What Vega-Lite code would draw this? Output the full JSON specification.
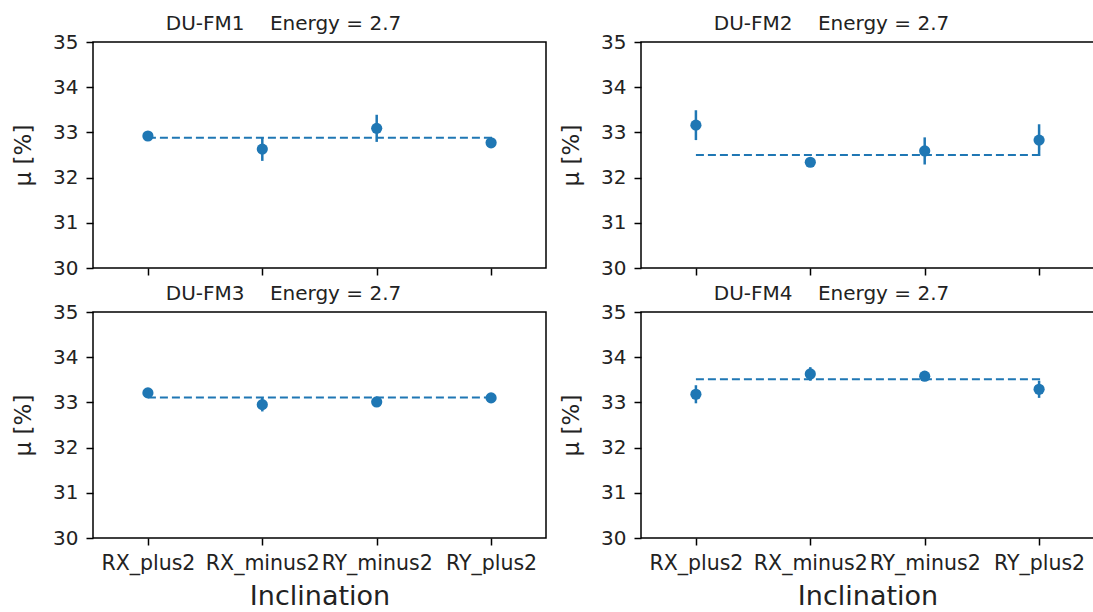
{
  "$schema": "https://vega.github.io/schema/vega-lite/v6.json",
  "padding": {"left": 11, "top": 13, "right": 0, "bottom": 0},
  "background": "white",
  "datasets": {
    "pts": [
      {"panel": "DU-FM1", "inclination": "RX_plus2", "mu": 32.92, "err": 0.06},
      {"panel": "DU-FM1", "inclination": "RX_minus2", "mu": 32.63, "err": 0.26},
      {"panel": "DU-FM1", "inclination": "RY_minus2", "mu": 33.09, "err": 0.3},
      {"panel": "DU-FM1", "inclination": "RY_plus2", "mu": 32.77, "err": 0.08},
      {"panel": "DU-FM2", "inclination": "RX_plus2", "mu": 33.16, "err": 0.33},
      {"panel": "DU-FM2", "inclination": "RX_minus2", "mu": 32.34, "err": 0.05},
      {"panel": "DU-FM2", "inclination": "RY_minus2", "mu": 32.59, "err": 0.3},
      {"panel": "DU-FM2", "inclination": "RY_plus2", "mu": 32.83, "err": 0.35},
      {"panel": "DU-FM3", "inclination": "RX_plus2", "mu": 33.21, "err": 0.07},
      {"panel": "DU-FM3", "inclination": "RX_minus2", "mu": 32.95, "err": 0.15},
      {"panel": "DU-FM3", "inclination": "RY_minus2", "mu": 33.01, "err": 0.06},
      {"panel": "DU-FM3", "inclination": "RY_plus2", "mu": 33.1, "err": 0.06},
      {"panel": "DU-FM4", "inclination": "RX_plus2", "mu": 33.18, "err": 0.2},
      {"panel": "DU-FM4", "inclination": "RX_minus2", "mu": 33.63, "err": 0.15},
      {"panel": "DU-FM4", "inclination": "RY_minus2", "mu": 33.58, "err": 0.08},
      {"panel": "DU-FM4", "inclination": "RY_plus2", "mu": 33.29, "err": 0.19}
    ],
    "lines": [
      {"panel": "DU-FM1", "inclination": "RX_plus2", "value": 32.88, "ord": 0},
      {"panel": "DU-FM1", "inclination": "RY_plus2", "value": 32.88, "ord": 1},
      {"panel": "DU-FM1", "inclination": "RY_plus2", "value": 32.77, "ord": 2},
      {"panel": "DU-FM2", "inclination": "RX_plus2", "value": 32.5, "ord": 0},
      {"panel": "DU-FM2", "inclination": "RY_plus2", "value": 32.5, "ord": 1},
      {"panel": "DU-FM2", "inclination": "RY_plus2", "value": 32.83, "ord": 2},
      {"panel": "DU-FM3", "inclination": "RX_plus2", "value": 33.11, "ord": 0},
      {"panel": "DU-FM3", "inclination": "RY_plus2", "value": 33.11, "ord": 1},
      {"panel": "DU-FM3", "inclination": "RY_plus2", "value": 33.1, "ord": 2},
      {"panel": "DU-FM4", "inclination": "RX_plus2", "value": 33.51, "ord": 0},
      {"panel": "DU-FM4", "inclination": "RY_plus2", "value": 33.51, "ord": 1},
      {"panel": "DU-FM4", "inclination": "RY_plus2", "value": 33.29, "ord": 2}
    ]
  },
  "config": {
    "font": "DejaVu Sans",
    "view": {"stroke": "black", "strokeWidth": 1.5},
    "axis": {
      "grid": false,
      "domain": false,
      "tickColor": "black",
      "tickWidth": 1.5,
      "tickSize": 7,
      "labelColor": "#222",
      "labelFont": "DejaVu Sans",
      "titleFont": "DejaVu Sans",
      "titleFontWeight": "normal",
      "titleColor": "#222"
    },
    "axisX": {"labelFontSize": 20.5},
    "axisY": {"labelFontSize": 20},
    "title": {"fontSize": 20, "fontWeight": "normal", "color": "#222", "offset": -2, "dx": -36, "font": "DejaVu Sans"}
  },
  "columns": 2,
  "spacing": {"row": 4, "column": 12},
  "concat": [
    {
      "title": "DU-FM1\u00a0\u00a0\u00a0\u00a0Energy = 2.7",
      "width": 453, "height": 226,
      "layer": [
        {"data": {"name": "lines"}, "transform": [{"filter": "datum.panel === 'DU-FM1'"}],
         "mark": {"type": "line", "color": "#1f77b4", "strokeWidth": 2, "strokeDash": [8, 4]},
         "encoding": {"x": {"field": "inclination", "type": "nominal", "scale": {"type": "point", "padding": 0.48, "domain": ["RX_plus2", "RX_minus2", "RY_minus2", "RY_plus2"]}, "sort": null, "axis": {"labels": false, "title": null, "labelAngle": 0}},
                      "y": {"field": "value", "type": "quantitative", "title": "μ [%]", "scale": {"domain": [30, 35], "nice": false, "zero": false}, "axis": {"values": [30, 31, 32, 33, 34, 35], "titleFontSize": 23, "labelPadding": 8, "titlePadding": 17}},
                      "order": {"field": "ord", "type": "quantitative"}}},
        {"data": {"name": "pts"}, "transform": [{"filter": "datum.panel === 'DU-FM1'"}],
         "mark": {"type": "errorbar", "color": "#1f77b4", "thickness": 2.5},
         "encoding": {"x": {"field": "inclination", "type": "nominal"}, "y": {"field": "mu", "type": "quantitative", "title": "μ [%]"}, "yError": {"field": "err"}}},
        {"data": {"name": "pts"}, "transform": [{"filter": "datum.panel === 'DU-FM1'"}],
         "mark": {"type": "point", "filled": true, "opacity": 1, "color": "#1f77b4", "size": 125},
         "encoding": {"x": {"field": "inclination", "type": "nominal"}, "y": {"field": "mu", "type": "quantitative", "title": "μ [%]"}}}
      ]
    },
    {
      "title": "DU-FM2\u00a0\u00a0\u00a0\u00a0Energy = 2.7",
      "width": 453, "height": 226,
      "layer": [
        {"data": {"name": "lines"}, "transform": [{"filter": "datum.panel === 'DU-FM2'"}],
         "mark": {"type": "line", "color": "#1f77b4", "strokeWidth": 2, "strokeDash": [8, 4]},
         "encoding": {"x": {"field": "inclination", "type": "nominal", "scale": {"type": "point", "padding": 0.48, "domain": ["RX_plus2", "RX_minus2", "RY_minus2", "RY_plus2"]}, "sort": null, "axis": {"labels": false, "title": null, "labelAngle": 0}},
                      "y": {"field": "value", "type": "quantitative", "title": "μ [%]", "scale": {"domain": [30, 35], "nice": false, "zero": false}, "axis": {"values": [30, 31, 32, 33, 34, 35], "titleFontSize": 23, "labelPadding": 8, "titlePadding": 17}},
                      "order": {"field": "ord", "type": "quantitative"}}},
        {"data": {"name": "pts"}, "transform": [{"filter": "datum.panel === 'DU-FM2'"}],
         "mark": {"type": "errorbar", "color": "#1f77b4", "thickness": 2.5},
         "encoding": {"x": {"field": "inclination", "type": "nominal"}, "y": {"field": "mu", "type": "quantitative", "title": "μ [%]"}, "yError": {"field": "err"}}},
        {"data": {"name": "pts"}, "transform": [{"filter": "datum.panel === 'DU-FM2'"}],
         "mark": {"type": "point", "filled": true, "opacity": 1, "color": "#1f77b4", "size": 125},
         "encoding": {"x": {"field": "inclination", "type": "nominal"}, "y": {"field": "mu", "type": "quantitative", "title": "μ [%]"}}}
      ]
    },
    {
      "title": "DU-FM3\u00a0\u00a0\u00a0\u00a0Energy = 2.7",
      "width": 453, "height": 226,
      "layer": [
        {"data": {"name": "lines"}, "transform": [{"filter": "datum.panel === 'DU-FM3'"}],
         "mark": {"type": "line", "color": "#1f77b4", "strokeWidth": 2, "strokeDash": [8, 4]},
         "encoding": {"x": {"field": "inclination", "type": "nominal", "title": "Inclination", "scale": {"type": "point", "padding": 0.48, "domain": ["RX_plus2", "RX_minus2", "RY_minus2", "RY_plus2"]}, "sort": null, "axis": {"labelAngle": 0, "titleFontSize": 27, "labelPadding": 8, "titlePadding": 10}},
                      "y": {"field": "value", "type": "quantitative", "title": "μ [%]", "scale": {"domain": [30, 35], "nice": false, "zero": false}, "axis": {"values": [30, 31, 32, 33, 34, 35], "titleFontSize": 23, "labelPadding": 8, "titlePadding": 17}},
                      "order": {"field": "ord", "type": "quantitative"}}},
        {"data": {"name": "pts"}, "transform": [{"filter": "datum.panel === 'DU-FM3'"}],
         "mark": {"type": "errorbar", "color": "#1f77b4", "thickness": 2.5},
         "encoding": {"x": {"field": "inclination", "type": "nominal", "title": "Inclination"}, "y": {"field": "mu", "type": "quantitative", "title": "μ [%]"}, "yError": {"field": "err"}}},
        {"data": {"name": "pts"}, "transform": [{"filter": "datum.panel === 'DU-FM3'"}],
         "mark": {"type": "point", "filled": true, "opacity": 1, "color": "#1f77b4", "size": 125},
         "encoding": {"x": {"field": "inclination", "type": "nominal", "title": "Inclination"}, "y": {"field": "mu", "type": "quantitative", "title": "μ [%]"}}}
      ]
    },
    {
      "title": "DU-FM4\u00a0\u00a0\u00a0\u00a0Energy = 2.7",
      "width": 453, "height": 226,
      "layer": [
        {"data": {"name": "lines"}, "transform": [{"filter": "datum.panel === 'DU-FM4'"}],
         "mark": {"type": "line", "color": "#1f77b4", "strokeWidth": 2, "strokeDash": [8, 4]},
         "encoding": {"x": {"field": "inclination", "type": "nominal", "title": "Inclination", "scale": {"type": "point", "padding": 0.48, "domain": ["RX_plus2", "RX_minus2", "RY_minus2", "RY_plus2"]}, "sort": null, "axis": {"labelAngle": 0, "titleFontSize": 27, "labelPadding": 8, "titlePadding": 10}},
                      "y": {"field": "value", "type": "quantitative", "title": "μ [%]", "scale": {"domain": [30, 35], "nice": false, "zero": false}, "axis": {"values": [30, 31, 32, 33, 34, 35], "titleFontSize": 23, "labelPadding": 8, "titlePadding": 17}},
                      "order": {"field": "ord", "type": "quantitative"}}},
        {"data": {"name": "pts"}, "transform": [{"filter": "datum.panel === 'DU-FM4'"}],
         "mark": {"type": "errorbar", "color": "#1f77b4", "thickness": 2.5},
         "encoding": {"x": {"field": "inclination", "type": "nominal", "title": "Inclination"}, "y": {"field": "mu", "type": "quantitative", "title": "μ [%]"}, "yError": {"field": "err"}}},
        {"data": {"name": "pts"}, "transform": [{"filter": "datum.panel === 'DU-FM4'"}],
         "mark": {"type": "point", "filled": true, "opacity": 1, "color": "#1f77b4", "size": 125},
         "encoding": {"x": {"field": "inclination", "type": "nominal", "title": "Inclination"}, "y": {"field": "mu", "type": "quantitative", "title": "μ [%]"}}}
      ]
    }
  ]
}
